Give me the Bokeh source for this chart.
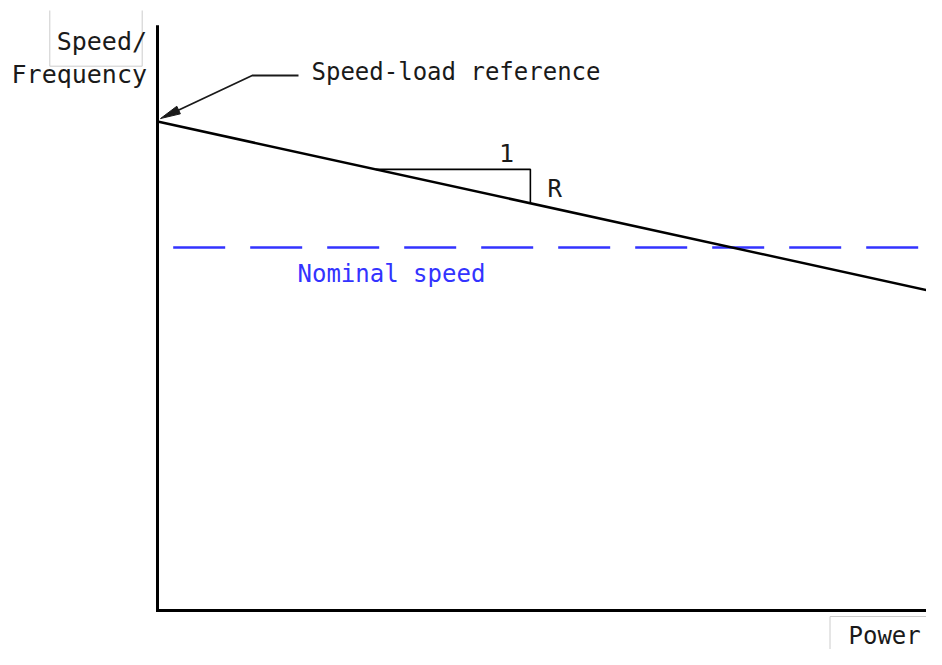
import numpy as np
from bokeh.plotting import figure
from bokeh.models import Range1d
from bokeh.core.properties import value
from bokeh.embed import file_html
from bokeh.resources import INLINE

# ---- data (conceptual droop characteristic) ----
power = [0, 100]                 # % of rated power
speed_line = [134.7, 87.3]       # speed at zero and full power
nominal_speed = 100.0            # nominal speed
slope_x = [27.8, 47.5]           # where the slope triangle sits (power)
axis_top = 161.2                 # top of the speed axis
dash_start = 2.0                 # start of nominal speed line

labels_axis_y = ["Speed/", "Frequency"]
label_axis_x = "Power"

# ---- layout helpers (canvas pixels -> data units) ----
W, H = 926, 649
PX_X = 7.85   # pixels per power unit
PX_Y = 3.63   # pixels per speed unit
OX, OY = 157.0, 610.0  # origin in canvas pixels
TXT = -9.0    # text baseline correction


def dx(px):
    return (px - OX) / PX_X


def dy(py):
    return (OY - py) / PX_Y


def ty(py):
    return dy(py + TXT)


p = figure(width=W, height=H, output_backend="svg", toolbar_location=None,
           x_range=Range1d(dx(0), dx(W)), y_range=Range1d(dy(H), dy(0)),
           min_border=0)
p.axis.visible = False
p.grid.visible = False
p.outline_line_color = None
p.background_fill_color = "white"
p.border_fill_color = "white"

font = value("DejaVu Sans Mono")
ink = "#1a1a1a"
blue = "#3333ff"

# label boxes (light gray)
p.line([dx(49.3), dx(49.3), dx(141.7), dx(141.7)], [dy(10), dy(65.7), dy(65.7), dy(10)],
       line_color="#cccccc", line_width=1)
p.line([dx(930), dx(829.5), dx(829.5)], [dy(616), dy(616), dy(660)],
       line_color="#cccccc", line_width=1)

# axes
p.line([0, 0, 110], [axis_top, 0, 0], line_color="black", line_width=3, line_join="miter")

# nominal speed (dashed)
p.line([dash_start, 110], [nominal_speed, nominal_speed], line_color=blue,
       line_width=2.5, line_dash="52 25")

# speed-load line
p.line(power, speed_line, line_color="black", line_width=2.5)

# slope triangle
k = (speed_line[1] - speed_line[0]) / (power[1] - power[0])


def sp(x):
    return speed_line[0] + k * (x - power[0])


p.line([slope_x[0], slope_x[1], slope_x[1]], [sp(slope_x[0]), sp(slope_x[0]), sp(slope_x[1])],
       line_color="black", line_width=1.6)

# arrow to speed-load reference
ref_px = np.array([OX + power[0] * PX_X, OY - speed_line[0] * PX_Y])
tip = ref_px + np.array([3.0, -3.0])
elbow = np.array([251.7, 75.0])
start = np.array([298.0, 75.0])
u = (tip - elbow) / np.linalg.norm(tip - elbow)
n = np.array([-u[1], u[0]])
head_len, head_w = 20.0, 4.2
base = tip - head_len * u
shaft_end = tip - 0.6 * head_len * u
p.line([dx(start[0]), dx(elbow[0]), dx(shaft_end[0])],
       [dy(start[1]), dy(elbow[1]), dy(shaft_end[1])], line_color=ink, line_width=1.8)
corners = [tip, base + head_w * n, base - head_w * n]
p.patch([dx(c[0]) for c in corners], [dy(c[1]) for c in corners], fill_color=ink,
        line_color=ink, line_width=1)

# texts
p.text(x=[dx(146.5), dx(146.5)], y=[ty(50), ty(83)], text=labels_axis_y,
       text_font=font, text_font_size="25px", text_align="right",
       text_baseline="alphabetic", text_color=ink)
p.text(x=[dx(848)], y=[ty(644)], text=[label_axis_x], text_font=font,
       text_font_size="24px", text_align="left", text_baseline="alphabetic", text_color=ink)
p.text(x=[dx(311)], y=[ty(80)], text=["Speed-load reference"], text_font=font,
       text_font_size="24px", text_align="left", text_baseline="alphabetic", text_color=ink)
p.text(x=[dx(506)], y=[ty(161)], text=["1"], text_font=font,
       text_font_size="25px", text_align="center", text_baseline="alphabetic", text_color=ink)
p.text(x=[dx(547)], y=[ty(197)], text=["R"], text_font=font,
       text_font_size="24px", text_align="left", text_baseline="alphabetic", text_color=ink)
p.text(x=[dx(297)], y=[ty(282)], text=["Nominal speed"], text_font=font,
       text_font_size="24px", text_align="left", text_baseline="alphabetic", text_color=blue)

open("out.html", "w").write(file_html(p, INLINE))
